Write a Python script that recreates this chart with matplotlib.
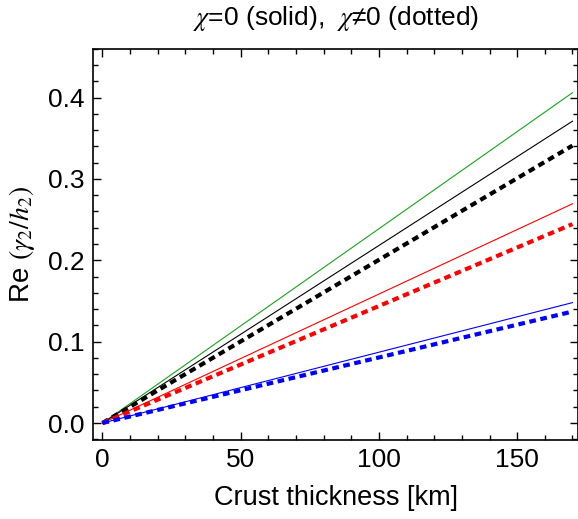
import matplotlib.pyplot as plt
from matplotlib.ticker import MultipleLocator

plt.rcParams['font.family'] = ['Liberation Sans', 'DejaVu Sans']
plt.rcParams['mathtext.fontset'] = 'stix'

# crust thickness [km]
thickness = [0, 170]

# chi = 0 (solid)
green_solid = [0.0, 0.406]
black_solid = [0.0, 0.371]
red_solid = [0.0, 0.2695]
blue_solid = [0.0, 0.148]

# chi != 0 (dotted)
black_dotted = [0.0, 0.341]
red_dotted = [0.0, 0.2445]
blue_dotted = [0.0, 0.137]

fig = plt.figure(figsize=(5.78, 5.19), dpi=100)
ax = fig.add_axes([0.161, 0.152, 0.839, 0.754])

ax.plot(thickness, green_solid, color="#1aa31a", lw=0.8)
ax.plot(thickness, black_solid, color="black", lw=0.8)
ax.plot(thickness, red_solid, color="red", lw=0.8)
ax.plot(thickness, blue_solid, color="blue", lw=0.8)
ax.plot(thickness, black_dotted, color="black", lw=3, ls=(0, (1.6, 1.1)))
ax.plot(thickness, red_dotted, color="red", lw=3, ls=(0, (1.6, 1.1)))
ax.plot(thickness, blue_dotted, color="blue", lw=3, ls=(0, (1.6, 1.1)))

ax.set_xlim(-3.4, 172)
ax.set_ylim(-0.021, 0.46)
ax.xaxis.set_major_locator(MultipleLocator(50))
ax.xaxis.set_minor_locator(MultipleLocator(10))
ax.yaxis.set_major_locator(MultipleLocator(0.1))
ax.yaxis.set_minor_locator(MultipleLocator(0.02))
ax.yaxis.set_major_formatter(plt.FuncFormatter(lambda v, p: f"{v:.1f}"))
ax.tick_params(which="both", direction="in", top=True, right=True, labelsize=19, width=1)
ax.tick_params(which="major", length=6, pad=6)
ax.tick_params(which="minor", length=3.5)
for s in ax.spines.values():
    s.set_linewidth(1.2)

ax.set_xlabel("Crust thickness [km]", fontsize=19.5, labelpad=9)
ax.set_ylabel(r"Re $(\gamma_2/h_2)$", fontsize=20, labelpad=8)
ax.set_title(r"$\chi$=0 (solid),  $\chi$≠0 (dotted)", fontsize=19, pad=17)

fig.savefig("out.png", dpi=100)
